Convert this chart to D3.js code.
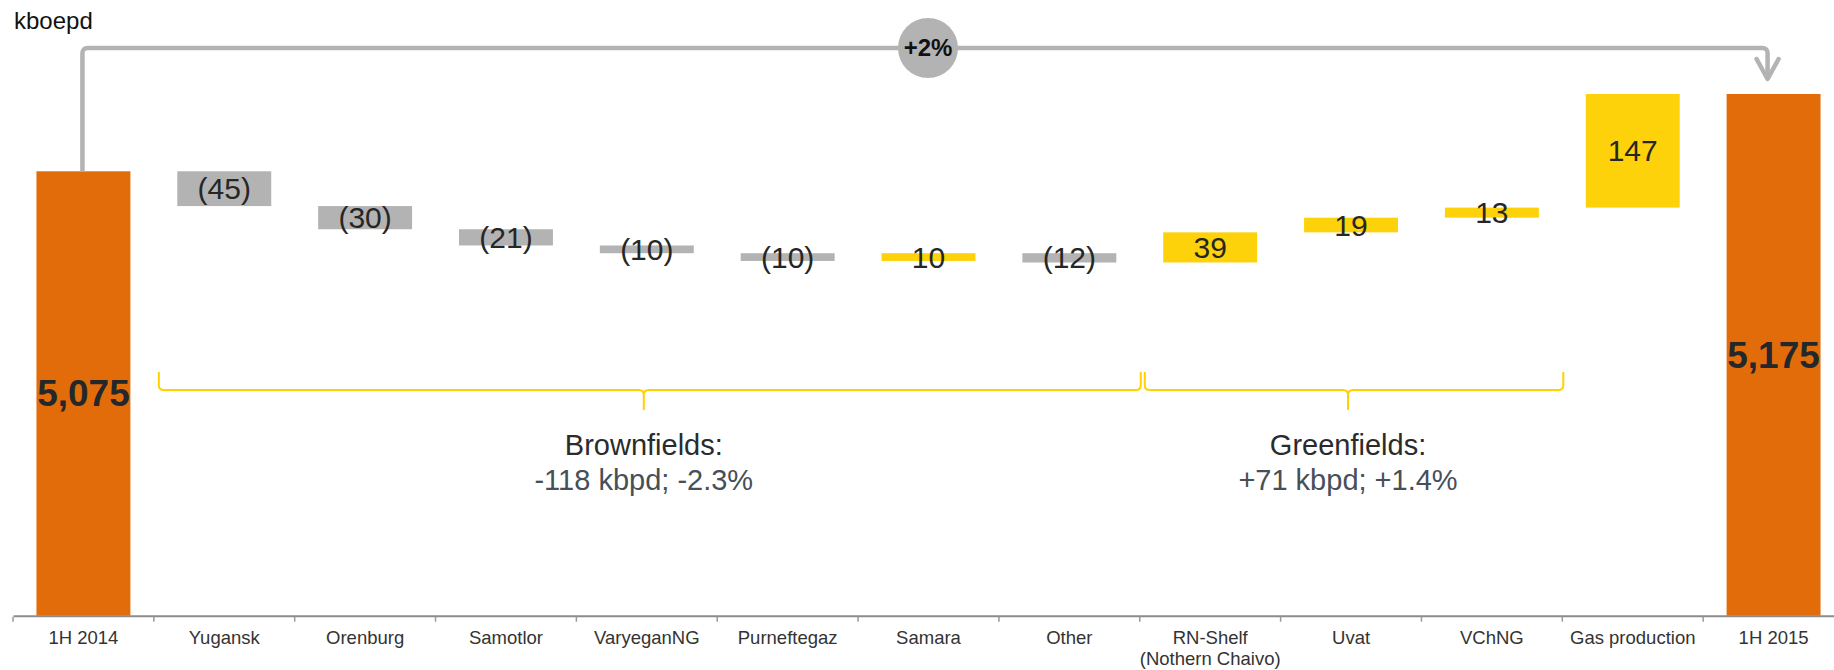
<!DOCTYPE html>
<html lang="en">
  <head>
    <meta charset="utf-8">
    <style>
      body { margin: 0; background: #fff; }
      svg text { font-family: "Liberation Sans", Arial, sans-serif; }
      .cat-label { font-size: 18.5px; fill: #333; }
      .val-label { font-size: 30px; fill: #262626; }
      .total-label { font-size: 37px; font-weight: bold; fill: #25282b; }
      .unit { font-size: 24px; fill: #111; }
      .group-title { font-size: 29px; fill: #2b2b2b; }
      .group-sub { font-size: 29px; fill: #474f57; }
      .axis .domain { stroke: #8c8c8c; stroke-width: 2; }
    </style>
  </head>
  <body>
    <svg id="chart" width="1834" height="670"></svg>

    <script src="https://cdn.jsdelivr.net/npm/d3@7/dist/d3.min.js"></script>

    <script>
      // data
      var categories = ["1H 2014", "Yugansk", "Orenburg", "Samotlor", "VaryeganNG", "Purneftegaz",
        "Samara", "Other", "RN-Shelf\n(Nothern Chaivo)", "Uvat", "VChNG", "Gas production", "1H 2015"];
      var values = [5075, -45, -30, -21, -10, -10, 10, -12, 39, 19, 13, 147, 5175];
      var isTotal = [true, false, false, false, false, false, false, false, false, false, false, false, true];
      var groupNames = ["Brownfields:", "Greenfields:"];
      var groupNotes = ["-118 kbpd; -2.3%", "+71 kbpd; +1.4%"];
      var groupFirst = ["Yugansk", "RN-Shelf\n(Nothern Chaivo)"];
      var groupLast = ["Other", "VChNG"];
      var changeLabel = "+2%";
      var unitLabel = "kboepd";
      var yBase = 4500;

      var orange = "#E36C0A", grey = "#B3B3B3", yellow = "#FDD20A";

      // waterfall steps
      var bars = [];
      var running = 0;
      categories.forEach(function(c, i) {
        var v = values[i];
        if (isTotal[i]) {
          bars.push({ cat: c, v: v, start: yBase, end: v, total: true });
          running = v;
        } else {
          bars.push({ cat: c, v: v, start: running, end: running + v, total: false });
          running += v;
        }
      });

      var svg = d3.select("#chart");

      var x = d3.scaleBand()
        .domain(categories)
        .range([13, 1844])
        .paddingInner(0.333)
        .paddingOuter(0.1665);

      var y = d3.scaleLinear()
        .domain([yBase, 5175])
        .range([615.7, 94]);

      var bw = x.bandwidth();

      /* bars */
      var g = svg.append("g").attr("class", "bars");

      g.selectAll("rect")
        .data(bars)
        .enter()
        .append("rect")
        .attr("x", function(d) { return x(d.cat); })
        .attr("width", bw)
        .attr("y", function(d) { return y(Math.max(d.start, d.end)); })
        .attr("height", function(d) { return Math.abs(y(d.start) - y(d.end)); })
        .style("fill", function(d) {
          if (d.total) return orange;
          return d.v < 0 ? grey : yellow;
        });

      g.selectAll("text")
        .data(bars)
        .enter()
        .append("text")
        .attr("class", function(d) { return d.total ? "total-label" : "val-label"; })
        .attr("x", function(d) { return x(d.cat) + bw / 2; })
        .attr("y", function(d) { return (y(d.start) + y(d.end)) / 2; })
        .attr("dy", ".35em")
        .attr("text-anchor", "middle")
        .text(function(d) {
          if (d.total) return d3.format(",")(d.v);
          return d.v < 0 ? "(" + Math.abs(d.v) + ")" : d.v;
        });

      /* axis */
      var axis = d3.axisBottom(x)
        .tickSize(0)
        .tickSizeOuter(0)
        .tickPadding(15);

      var ax = svg.append("g")
        .attr("class", "axis")
        .attr("transform", "translate(0," + y(yBase) + ")")
        .call(axis);

      ax.selectAll(".tick text")
        .attr("class", "cat-label")
        .attr("fill", null)
        .each(function(d) {
          var lines = d.split("\n");
          var t = d3.select(this).text(null);
          lines.forEach(function(l, i) {
            t.append("tspan")
              .attr("x", 0)
              .attr("dy", i === 0 ? "0.71em" : "1.15em")
              .text(l);
          });
        });
      ax.attr("font-family", null).attr("font-size", null);

      ax.selectAll("line.sep")
        .data(categories)
        .enter()
        .append("line")
        .attr("class", "sep")
        .attr("x1", function(c) { return x(c) + bw / 2 - x.step() / 2; })
        .attr("x2", function(c) { return x(c) + bw / 2 - x.step() / 2; })
        .attr("y1", 1)
        .attr("y2", 6)
        .style("stroke", "#999")
        .style("stroke-width", 1.5);

      /* braces */
      var braceTop = 372, braceMid = 390, braceTip = 410;

      function bracePath(x0, x1, m) {
        var r = 5;
        var p = d3.path();
        p.moveTo(x0, braceTop);
        p.lineTo(x0, braceMid - r);
        p.quadraticCurveTo(x0, braceMid, x0 + r, braceMid);
        p.lineTo(m - r, braceMid);
        p.quadraticCurveTo(m, braceMid, m, braceMid + r);
        p.lineTo(m, braceTip);
        p.moveTo(m, braceMid + r);
        p.quadraticCurveTo(m, braceMid, m + r, braceMid);
        p.lineTo(x1 - r, braceMid);
        p.quadraticCurveTo(x1, braceMid, x1, braceMid - r);
        p.lineTo(x1, braceTop);
        return p.toString();
      }

      groupNames.forEach(function(name, i) {
        var b0 = x(groupFirst[i]) + bw / 2 - x.step() / 2;
        var b1 = x(groupLast[i]) + bw / 2 + x.step() / 2;
        var x0 = b0 + 5, x1 = b1 + 1;
        var m = (b0 + b1) / 2 - 3;
        svg.append("path")
          .attr("d", bracePath(x0, x1, m))
          .style("fill", "none")
          .style("stroke", "#FFD200")
          .style("stroke-width", 2);

        svg.append("text")
          .attr("class", "group-title")
          .attr("x", m)
          .attr("y", 455)
          .attr("text-anchor", "middle")
          .text(name);

        svg.append("text")
          .attr("class", "group-sub")
          .attr("x", m)
          .attr("y", 490)
          .attr("text-anchor", "middle")
          .text(groupNotes[i]);
      });

      /* connector arrow between totals */
      var xL = x(categories[0]) + bw / 2 - 1;
      var xR = x(categories[categories.length - 1]) + bw / 2 - 6;
      var lvl = y(5175) - 46;
      var tip = y(5175) - 15;
      var r = 5;

      var c = d3.path();
      c.moveTo(xL, y(values[0]));
      c.lineTo(xL, lvl + r);
      c.arcTo(xL, lvl, xL + r, lvl, r);
      c.lineTo(xR - r, lvl);
      c.arcTo(xR, lvl, xR, lvl + r, r);
      c.lineTo(xR, tip);

      svg.append("path")
        .attr("d", c.toString())
        .style("fill", "none")
        .style("stroke", grey)
        .style("stroke-width", 4.5);

      svg.append("path")
        .attr("d", "M" + (xR - 11) + "," + (tip - 20) + "L" + xR + "," + tip + "L" + (xR + 11) + "," + (tip - 20))
        .style("fill", "none")
        .style("stroke", grey)
        .style("stroke-width", 4.5)
        .style("stroke-linecap", "round")
        .style("stroke-linejoin", "round");

      svg.append("circle")
        .attr("cx", (xL + xR) / 2 + 3)
        .attr("cy", lvl)
        .attr("r", 30)
        .style("fill", grey);

      svg.append("text")
        .attr("x", (xL + xR) / 2 + 3)
        .attr("y", lvl)
        .attr("dy", ".35em")
        .attr("text-anchor", "middle")
        .style("font-size", "24px")
        .style("font-weight", "bold")
        .style("fill", "#111")
        .text(changeLabel);

      svg.append("text")
        .attr("class", "unit")
        .attr("x", 14)
        .attr("y", 29)
        .text(unitLabel);
    </script>
  </body>
</html>
